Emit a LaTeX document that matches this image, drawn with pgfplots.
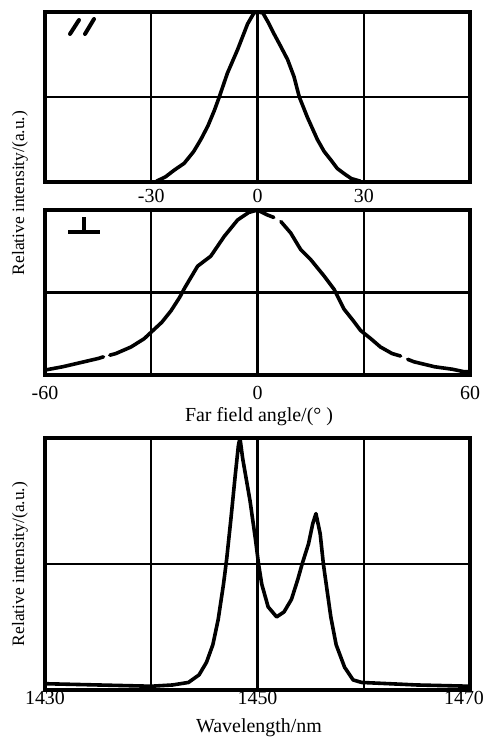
\documentclass[border=0pt]{standalone}
\usepackage{fontspec}
\setmainfont{Liberation Serif}
\usepackage{pgfplots}
\pgfplotsset{compat=1.18}

% common look of the three framed panels
\pgfplotsset{panel/.style={
    scale only axis, width=425bp, anchor=north west,
    ymin=0, ymax=1, ytick={0.5}, yticklabels={},
    major tick length=0pt, grid=major,
    grid style={black, line width=2.3bp},
    axis line style={line width=3.4bp},
    unbounded coords=jump,
    xticklabel style={anchor=center},
},
curve/.style={black, line width=3.6bp, line join=round, line cap=round, mark=none}}

\begin{document}
\fontsize{20}{23}\selectfont
\begin{tikzpicture}
\useasboundingbox (0,0) rectangle (489bp,-740bp);

% parallel
\begin{axis}[panel, at={(45bp,-12bp)}, height=170bp,
    xmin=-60, xmax=60, xtick={-30,0,30}, xticklabels={-30,0,30},
    xticklabel style={yshift=-14bp}]
\addplot[curve] coordinates {
  (-28.5,0.005) (-26,0.03) (-23.5,0.07) (-20.7,0.11) (-18,0.18) (-16,0.25)
  (-14,0.33) (-12.2,0.42) (-10.8,0.5) (-8.5,0.64) (-5.6,0.78) (-2.8,0.93)
  (-1,0.995) (0,1) (1.5,0.995) (3,0.94) (4.7,0.87) (6.5,0.8) (8.5,0.72)
  (10.3,0.62) (11.8,0.5) (14.1,0.38) (16.9,0.25) (18.8,0.18) (20.7,0.13)
  (22.5,0.08) (24.4,0.05) (26.5,0.02) (29,0.005)
};
\end{axis}

% perpendicular
\begin{axis}[panel, at={(45bp,-210bp)}, height=165bp,
    xmin=-60, xmax=60, xtick={-60,-30,0,30,60}, xticklabels={-60,,0,,60},
    xticklabel style={yshift=-18bp}]
\addplot[curve] coordinates {
  (-60,0.03) (-55,0.05) (-50,0.075) (-45,0.10) (-43.5,0.11) (-42.5,nan)
  (-41.7,0.12) (-40,0.13) (-35.7,0.17) (-32,0.22) (-30,0.26) (-27,0.32)
  (-24.4,0.39) (-22,0.47) (-20.5,0.53) (-16.9,0.66) (-13.2,0.72) (-9.4,0.84)
  (-5.6,0.94) (-2.5,0.985) (0,1.0) (2.8,0.97) (4.6,0.955) (5.5,nan)
  (6.6,0.93) (9.4,0.86) (12.2,0.76) (15,0.70) (18.8,0.60) (21.6,0.52)
  (24.4,0.40) (27,0.33) (29.1,0.27) (32,0.22) (34.7,0.17) (38,0.13)
  (40.4,0.115) (41.4,nan) (42.4,0.095) (44.2,0.08) (50,0.05) (55,0.035)
  (58.3,0.02) (60,0.02)
};
\end{axis}

% spectrum
\begin{axis}[panel, at={(45bp,-438bp)}, height=252bp,
    xmin=1430, xmax=1470, xtick={1430,1440,1450,1460,1470},
    xticklabels={1430,,1450,,{\kern-12bp 1470}},
    xticklabel style={yshift=-8bp}]
\addplot[curve] coordinates {
  (1430,0.025) (1435,0.02) (1440,0.015) (1442,0.02) (1443.5,0.03)
  (1444.5,0.06) (1445.2,0.11) (1445.8,0.18) (1446.3,0.28) (1446.8,0.42)
  (1447.1,0.52) (1447.5,0.68) (1447.9,0.85) (1448.2,0.97) (1448.35,1.0)
  (1448.6,0.92) (1449.3,0.75) (1449.8,0.6) (1450.1,0.5) (1450.4,0.42)
  (1451,0.33) (1451.8,0.29) (1452.5,0.31) (1453.2,0.36) (1453.8,0.44)
  (1454.2,0.50) (1454.8,0.58) (1455.2,0.66) (1455.5,0.70) (1455.9,0.62)
  (1456.2,0.5) (1456.6,0.38) (1456.9,0.29) (1457.4,0.18) (1458.2,0.09)
  (1459,0.04) (1459.8,0.03) (1465,0.02) (1470,0.015)
};
\end{axis}

% panel marks and labels
\draw[line width=4bp, line cap=round] (70bp,-34bp) -- (79bp,-20bp) (85bp,-34bp) -- (94bp,-19bp);
\draw[line width=3.2bp] (68bp,-232bp) -- (100bp,-232bp) (84bp,-232bp) -- (84bp,-217bp);
\node[rotate=90, font=\fontsize{17.5}{17.5}\selectfont] at (20bp,-193bp) {Relative intensity/(a.u.)};
\node[rotate=90, font=\fontsize{17.5}{17.5}\selectfont] at (20bp,-564bp) {Relative intensity/(a.u.)};
\node at (259bp,-417bp) {Far field angle/(° )};
\node at (259bp,-728bp) {Wavelength/nm};
\end{tikzpicture}
\end{document}
